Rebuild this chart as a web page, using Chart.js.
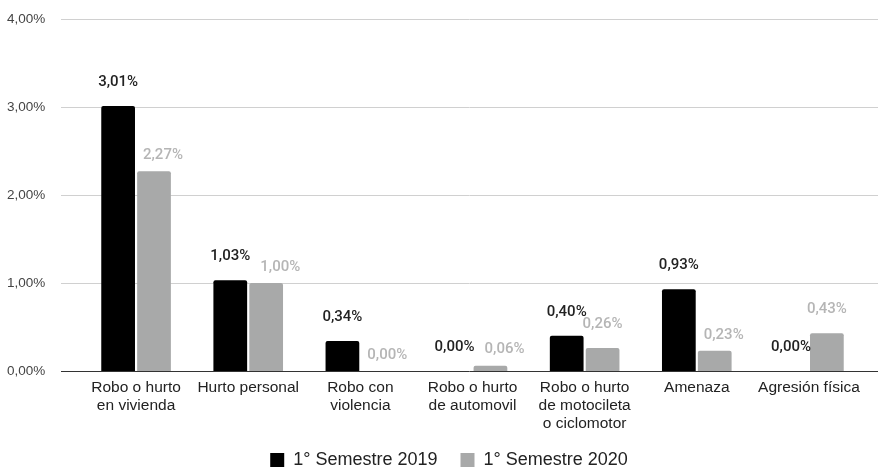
<!DOCTYPE html>
<html>
<head>
<meta charset="utf-8">
<script src="https://cdn.jsdelivr.net/npm/chart.js@4"></script>
<style>
  html, body { margin: 0; padding: 0; background: #ffffff; }
  #wrap { width: 878px; height: 468px; }
</style>
</head>
<body>
<div id="wrap"><canvas id="c" width="878" height="468"></canvas></div>
<script>
const categories = [
  ['Robo o hurto', 'en vivienda'],
  'Hurto personal',
  ['Robo con', 'violencia'],
  ['Robo o hurto', 'de automovil'],
  ['Robo o hurto', 'de motocileta', 'o ciclomotor'],
  'Amenaza',
  'Agresión física'
];
const seriesNames = ['1° Semestre 2019', '1° Semestre 2020'];
const values2019 = [3.01, 1.03, 0.34, 0.00, 0.40, 0.93, 0.00];
const values2020 = [2.27, 1.00, 0.00, 0.06, 0.26, 0.23, 0.43];
const yTickValues = [0, 1, 2, 3, 4];

function fmtPct(v) { return v.toFixed(2).replace('.', ',') + '%'; }

const labelColors = ['#222222', '#b5b5b5'];
const labelFont = '500 15px Roboto';
const labelOffset = 24;
const shiftedOffset = 16;
const labelH = 11;

function overlaps(a, b) {
  return a.l < b.r && a.r > b.l && a.t < b.b && a.b > b.t;
}

const gridPlugin = {
  id: 'extGrid',
  beforeDatasetsDraw(chart) {
    const ctx = chart.ctx, y = chart.scales.y;
    ctx.save();
    ctx.lineWidth = 1;
    ctx.strokeStyle = '#d0d0d0';
    yTickValues.forEach(v => {
      if (v === 0) return;
      const py = Math.round(y.getPixelForValue(v)) + 0.5;
      ctx.beginPath(); ctx.moveTo(61, py); ctx.lineTo(878, py); ctx.stroke();
    });
    ctx.restore();
  },
  afterDatasetsDraw(chart) {
    const ctx = chart.ctx, y = chart.scales.y;
    ctx.save();
    ctx.lineWidth = 1;
    ctx.strokeStyle = '#333333';
    const py = Math.round(y.getPixelForValue(0)) + 0.5;
    ctx.beginPath(); ctx.moveTo(61, py); ctx.lineTo(878, py); ctx.stroke();
    ctx.font = labelFont;
    ctx.textAlign = 'center';
    ctx.textBaseline = 'middle';
    const m0 = chart.getDatasetMeta(0), m1 = chart.getDatasetMeta(1);
    const d0 = chart.data.datasets[0].data, d1 = chart.data.datasets[1].data;
    m0.data.forEach((b, i) => {
      const g = m1.data[i];
      const t0 = fmtPct(d0[i]), t1 = fmtPct(d1[i]);
      const w0 = ctx.measureText(t0).width, w1 = ctx.measureText(t1).width;
      const c0y = b.y - labelOffset;
      const lab0 = { l: b.x - w0 / 2, r: b.x + w0 / 2, t: c0y - labelH / 2, b: c0y + labelH / 2 };
      const bar0 = { l: b.x - b.width / 2 - 3, r: b.x + b.width / 2, t: b.y, b: b.base };
      let gx = g.x, gy = g.y - labelOffset;
      const lab1 = { l: gx - w1 / 2, r: gx + w1 / 2, t: gy - labelH / 2, b: gy + labelH / 2 };
      const hitBar = overlaps({ l: lab1.l - 3, r: lab1.r, t: lab1.t, b: lab1.b }, bar0) && b.base - b.y > 1;
      const hitLab = overlaps(lab1, lab0);
      if (hitBar || hitLab) {
        let left = -Infinity;
        if (hitBar) left = Math.max(left, bar0.r + 8);
        if (hitLab) left = Math.max(left, lab0.r + 10);
        gx = left + w1 / 2;
        gy = g.y - shiftedOffset;
      }
      ctx.fillStyle = labelColors[0];
      ctx.fillText(t0, b.x, c0y);
      ctx.fillStyle = labelColors[1];
      ctx.fillText(t1, gx, gy);
    });
    ctx.restore();
  },
  afterLayout(chart) {
    if (chart.legend) { chart.legend.left += 13; chart.legend.right += 13; }
  }
};

new Chart(document.getElementById('c'), {
  type: 'bar',
  data: {
    labels: categories,
    datasets: [
      { label: seriesNames[0], data: values2019, backgroundColor: '#000000', borderRadius: 2, borderSkipped: 'bottom' },
      { label: seriesNames[1], data: values2020, backgroundColor: '#a8a9a9', borderRadius: 2, borderSkipped: 'bottom' }
    ]
  },
  options: {
    responsive: false,
    devicePixelRatio: 1,
    animation: false,
    categoryPercentage: 0.64,
    barPercentage: 0.94,
    layout: { padding: { top: 19, right: 13, left: 7, bottom: -11 } },
    plugins: {
      tooltip: { enabled: false },
      legend: {
        position: 'bottom',
        labels: {
          boxWidth: 14, boxHeight: 14, padding: 23,
          color: '#222222',
          font: { family: '"Liberation Sans", Arial, sans-serif', size: 18 }
        }
      }
    },
    scales: {
      x: {
        grid: { display: false, drawTicks: false },
        border: { display: false },
        ticks: {
          padding: 8,
          color: '#222222',
          maxRotation: 0,
          autoSkip: false,
          font: { family: '"Liberation Sans", Arial, sans-serif', size: 15.5, lineHeight: 1.16 }
        },
        afterFit(scale) { scale.height = 57; }
      },
      y: {
        min: 0, max: 4,
        grid: { display: false, drawTicks: false },
        border: { display: false },
        ticks: {
          stepSize: 1,
          padding: 0,
          crossAlign: 'far',
          color: '#444444',
          font: { family: '"Liberation Sans", Arial, sans-serif', size: 13.5 },
          callback: v => fmtPct(v)
        },
        afterFit(scale) { scale.width = 73; }
      }
    }
  },
  plugins: [gridPlugin]
});
</script>
</body>
</html>
